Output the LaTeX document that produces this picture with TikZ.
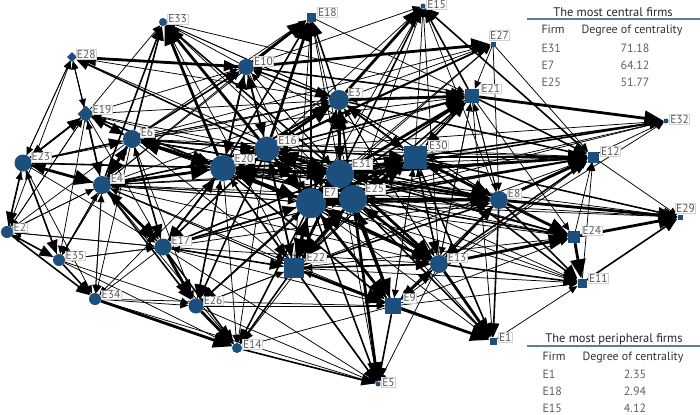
\documentclass[tikz,border=0pt]{standalone}
\usepackage{fontspec}
\setmainfont{PT Sans}
\usetikzlibrary{arrows.meta,shapes.geometric}
\definecolor{nodeblue}{RGB}{28,79,124}
\definecolor{rulecol}{RGB}{90,125,160}
\definecolor{labgray}{RGB}{90,90,90}
\definecolor{tabgray}{RGB}{95,95,95}
\pgfdeclarelayer{bg}
\pgfsetlayers{bg,main}
\newcommand\myedges[3]{\foreach \s in {#3}{\draw[#1] (\s) -- (#2);}}
\begin{document}
\begin{tikzpicture}[x=1bp,y=-1bp,
  cnode/.style={circle,fill=nodeblue,inner sep=0pt,minimum size=#1 bp},
  snode/.style={rectangle,fill=nodeblue,inner sep=0pt,minimum size=#1 bp},
  dnode/.style={diamond,aspect=1,fill=nodeblue,inner sep=0pt,minimum size=#1 bp},
  lab/.style={fill=white,draw=gray!35,line width=0.3bp,inner sep=0.7bp,text=labgray,
    font=\fontsize{11.5}{12}\selectfont,anchor=west},
  ethin/.style={line width=0.75bp,-{Triangle[length=8bp,width=7bp]}},
  emid/.style={line width=1.6bp,-{Triangle[length=14bp,width=11bp]}},
  ethick/.style={line width=2.8bp,-{Triangle[length=19bp,width=15bp]}},
  ttl/.style={font=\fontsize{12.5}{13}\selectfont,text=black!85,anchor=base},
  thd/.style={font=\fontsize{12}{13}\selectfont,text=black!80,anchor=base west},
  trow/.style={font=\fontsize{12}{13}\selectfont,text=tabgray,anchor=base west},
  tval/.style={font=\fontsize{12}{13}\selectfont,text=tabgray,anchor=base}]
\useasboundingbox (0,0) rectangle (700,414);
% nodes
\node[snode=7] (E1) at (493,341) {};
\node[cnode=12] (E2) at (7,232) {};
\node[cnode=20] (E3) at (339,100) {};
\node[cnode=18] (E4) at (102,185) {};
\node[cnode=5] (E5) at (378,384) {};
\node[cnode=18] (E6) at (132,139) {};
\node[cnode=30] (E7) at (311,203) {};
\node[cnode=18] (E8) at (499,200) {};
\node[snode=16] (E9) at (393,306) {};
\node[cnode=16] (E10) at (246,67) {};
\node[snode=9] (E11) at (582,283) {};
\node[snode=11] (E12) at (593,157) {};
\node[cnode=18] (E13) at (439,264) {};
\node[cnode=10] (E14) at (237,348) {};
\node[cnode=5] (E15) at (423,6) {};
\node[cnode=25] (E16) at (267,149) {};
\node[cnode=17] (E17) at (163,247) {};
\node[snode=9] (E18) at (311,17) {};
\node[dnode=17] (E19) at (86,114) {};
\node[cnode=26] (E20) at (223,168) {};
\node[snode=14] (E21) at (472,96) {};
\node[snode=20] (E22) at (294,268) {};
\node[cnode=17] (E23) at (23,163) {};
\node[snode=12] (E24) at (574,237) {};
\node[cnode=28] (E25) at (353,199) {};
\node[cnode=15] (E26) at (196,306) {};
\node[snode=5] (E27) at (493,44) {};
\node[dnode=10] (E28) at (72,57) {};
\node[snode=5] (E29) at (680,217) {};
\node[snode=23] (E30) at (415,157) {};
\node[cnode=28] (E31) at (340,174) {};
\node[cnode=5] (E32) at (666,121) {};
\node[cnode=8] (E33) at (163,22) {};
\node[cnode=12] (E34) at (95,299) {};
\node[cnode=12] (E35) at (59,260) {};
% edges
\begin{pgfonlayer}{bg}
\myedges{ethick}{E33}{E20,E16}
\myedges{emid}{E33}{E6,E4,E31}
\myedges{ethin}{E33}{E7,E10,E3,E19,E25,E22}
\myedges{ethick}{E28}{E10}
\myedges{emid}{E28}{E16}
\myedges{ethin}{E28}{E23,E19,E4,E2,E31}
\myedges{ethick}{E18}{E10,E16}
\myedges{emid}{E18}{E20,E7,E3}
\myedges{ethin}{E18}{E6,E4,E31,E25,E22}
\myedges{ethick}{E15}{E3}
\myedges{emid}{E15}{E31,E21,E12}
\myedges{ethin}{E15}{E25,E7,E30,E8,E10,E16,E13}
\myedges{ethick}{E27}{E10}
\myedges{emid}{E27}{E20,E16}
\myedges{ethin}{E27}{E3,E31,E6,E7}
\myedges{ethin}{E8}{E27}
\myedges{ethin}{E12}{E27}
\myedges{emid}{E10}{E28,E6,E20,E16}
\myedges{ethin}{E10}{E19,E4,E31,E3,E21,E30}
\myedges{ethick}{E3}{E16,E31}
\myedges{emid}{E3}{E10,E20,E7,E25,E30}
\myedges{ethin}{E3}{E6,E21,E8,E4,E19,E28,E23,E13,E33}
\myedges{ethick}{E21}{E3,E31}
\myedges{emid}{E21}{E10,E16,E7,E25,E30}
\myedges{ethin}{E21}{E8,E20,E6,E13,E22,E33,E18,E27}
\myedges{ethick}{E32}{E21}
\myedges{emid}{E32}{E30,E31}
\myedges{ethin}{E32}{E25,E8,E7,E16,E13}
\myedges{emid}{E19}{E23,E6}
\myedges{ethin}{E19}{E4,E20,E16,E31,E28,E2}
\myedges{ethick}{E6}{E20}
\myedges{emid}{E6}{E19,E23,E4,E16,E31}
\myedges{ethin}{E6}{E7,E25,E10,E3,E17,E35}
\myedges{ethick}{E16}{E20,E31,E7}
\myedges{emid}{E16}{E6,E10,E3,E25,E22}
\myedges{ethin}{E16}{E4,E30,E17,E13,E8,E21}
\myedges{ethick}{E20}{E6,E4,E16,E31,E7}
\myedges{emid}{E20}{E25,E10,E3,E23,E19,E17}
\myedges{ethin}{E20}{E22,E30,E13,E26}
\myedges{ethick}{E31}{E20,E16,E7,E25,E30}
\myedges{emid}{E31}{E3,E22,E13,E8,E9}
\myedges{ethin}{E31}{E6,E4,E10,E21,E17,E12,E24}
\myedges{ethick}{E30}{E31,E25,E7}
\myedges{emid}{E30}{E3,E21,E8,E16,E20}
\myedges{ethin}{E30}{E13,E22,E9,E12,E24}
\myedges{ethick}{E12}{E30,E31,E8}
\myedges{emid}{E12}{E25,E7,E21,E3,E13}
\myedges{ethin}{E12}{E20,E16,E22,E24,E11,E9,E4,E6}
\myedges{emid}{E23}{E19,E4}
\myedges{ethin}{E23}{E6,E28,E2,E35,E20}
\myedges{ethick}{E4}{E23,E6}
\myedges{emid}{E4}{E19,E20,E16,E17}
\myedges{ethin}{E4}{E31,E7,E25,E2,E35,E34,E22}
\myedges{ethick}{E7}{E31,E25,E20,E16,E22}
\myedges{emid}{E7}{E3,E30,E13,E9,E17}
\myedges{ethin}{E7}{E4,E6,E8,E26,E10}
\myedges{ethick}{E25}{E31,E7,E30,E22}
\myedges{emid}{E25}{E16,E20,E13,E9}
\myedges{ethin}{E25}{E3,E8,E4,E17}
\myedges{ethick}{E8}{E31,E25,E30}
\myedges{emid}{E8}{E7,E20,E16,E22,E13}
\myedges{ethin}{E8}{E3,E9,E21,E4,E6,E17}
\myedges{emid}{E2}{E23}
\myedges{ethin}{E2}{E4,E19,E6,E35,E17}
\myedges{ethick}{E17}{E4}
\myedges{emid}{E17}{E6,E20,E16,E31,E7}
\myedges{ethin}{E17}{E25,E22,E23,E2,E35,E19}
\myedges{ethick}{E29}{E24,E8}
\myedges{emid}{E29}{E11,E30}
\myedges{ethin}{E29}{E31,E25,E13,E7,E12}
\myedges{ethick}{E24}{E8,E13}
\myedges{emid}{E24}{E30,E31,E25}
\myedges{ethin}{E24}{E7,E22,E9,E21,E20,E16}
\myedges{emid}{E35}{E2,E23}
\myedges{ethin}{E35}{E4,E17,E19,E6}
\myedges{ethick}{E22}{E7,E25,E31}
\myedges{emid}{E22}{E20,E16,E17}
\myedges{ethin}{E22}{E4,E13,E9,E26,E6,E30,E3}
\myedges{ethick}{E13}{E31,E25,E7}
\myedges{emid}{E13}{E30,E22,E9,E8}
\myedges{ethin}{E13}{E20,E16,E17,E4,E3,E21}
\myedges{emid}{E34}{E35,E2}
\myedges{ethin}{E34}{E23,E4,E17,E6,E20}
\myedges{ethick}{E26}{E17}
\myedges{emid}{E26}{E4,E20,E16,E7}
\myedges{ethin}{E26}{E22,E34,E35,E6,E31}
\myedges{ethick}{E9}{E22,E7,E25}
\myedges{emid}{E9}{E31,E13,E20,E16}
\myedges{ethin}{E9}{E17,E26,E8,E30,E4,E34}
\myedges{ethick}{E11}{E24}
\myedges{emid}{E11}{E8,E13,E30}
\myedges{ethin}{E11}{E31,E25,E9,E1,E22,E7}
\myedges{ethick}{E14}{E34,E26}
\myedges{emid}{E14}{E17,E22,E7}
\myedges{ethin}{E14}{E20,E4,E35,E16,E25,E9}
\myedges{ethick}{E1}{E13,E9}
\myedges{emid}{E1}{E8,E30,E25}
\myedges{ethin}{E1}{E31,E22,E7,E21}
\myedges{ethick}{E5}{E25}
\myedges{emid}{E5}{E14,E22,E7,E9}
\myedges{ethin}{E5}{E13,E34,E26,E31,E17,E20}
\end{pgfonlayer}
% labels
\foreach \n in {E1,E2,E3,E4,E5,E6,E7,E8,E9,E10,E11,E12,E13,E14,E15,E16,E17,E18,E19,E20,E21,E22,E23,E24,E25,E26,E28,E30,E31,E32,E33,E34,E35}
  {\node[lab] (l\n) at ([xshift=1.5bp]\n.north east) {\n};}
\node[lab,anchor=south west] (lE27) at ([xshift=-1bp,yshift=1bp]E27.north west) {E27};
\node[lab,anchor=south west] (lE29) at ([xshift=-2bp,yshift=1bp]E29.north west) {E29};
% tables
\node[ttl] (t1) at (613,16) {The most central firms};
\draw[rulecol,line width=1.6bp] (527,19) -- (700,19);
\node[thd] (t1a) at (538,33.5) {Firm};
\node[thd] (t1b) at (578,33.5) {Degree of centrality};
\node[trow] (t1c) at (538,52) {E31};
\node[tval] (t1d) at (635,52) {71.18};
\node[trow] (t1e) at (538,69) {E7};
\node[tval] (t1f) at (635,69) {64.12};
\node[trow] (t1g) at (538,86) {E25};
\node[tval] (t1h) at (635,86) {51.77};
\node[ttl] (t2) at (614,342) {The most peripheral firms};
\draw[rulecol,line width=1.6bp] (527,346) -- (700,346);
\node[thd] (t2a) at (539,360) {Firm};
\node[thd] (t2b) at (579,360) {Degree of centrality};
\node[trow] (t2c) at (539,378) {E1};
\node[tval] (t2d) at (635,378) {2.35};
\node[trow] (t2e) at (539,395) {E18};
\node[tval] (t2f) at (635,395) {2.94};
\node[trow] (t2g) at (539,412) {E15};
\node[tval] (t2h) at (635,412) {4.12};
\end{tikzpicture}
\end{document}
